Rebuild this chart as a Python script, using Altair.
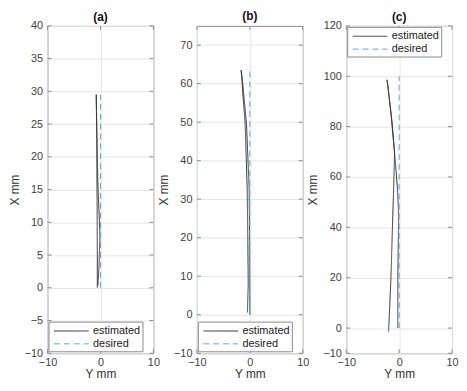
import altair as alt
import pandas as pd

# ---------------- data ----------------
SERIES = ["estimated", "desired"]

# panel (a)
a_est_h = [-0.6, -0.6, -0.62, -0.65, -0.7, -0.8, -0.75, -0.6, -0.45, -0.3, -0.1, -0.3, -0.5]
a_est_v = [0.0, 5.0, 10.0, 15.0, 22.0, 29.5, 27.0, 20.0, 15.0, 12.0, 8.0, 3.0, 0.3]
a_des_h = [0.0, 0.0]
a_des_v = [0.0, 29.5]

# panel (b)
b_est_h = [-0.45, -0.3, -0.38, -0.5, -0.88, -1.64, -1.4, -0.63, -0.13, -0.05, 0.0, 0.0]
b_est_v = [0.6, 8.0, 20.0, 33.0, 49.5, 63.5, 61.0, 49.5, 33.0, 20.0, 5.0, 0.0]
b_des_h = [0.0, 0.0]
b_des_v = [0.0, 64.0]

# panel (c)
c_est_h = [-2.0, -1.55, -1.2, -1.05, -0.87, -1.35, -1.8, -2.3, -2.1, -1.5, -0.87, -0.3, -0.1, -0.25, -0.25]
c_est_v = [-1.4, 20.0, 45.0, 55.0, 69.6, 82.0, 90.0, 98.6, 96.0, 84.0, 69.6, 55.0, 45.0, 20.0, 0.0]
c_des_h = [0.0, 0.0]
c_des_v = [0.0, 100.0]

TITLES = ["(a)", "(b)", "(c)"]
Y_DOMAINS = [[-10, 40], [-10, 75], [-10, 120]]
Y_TICKS = [
    [-10, -5, 0, 5, 10, 15, 20, 25, 30, 35, 40],
    [-10, 0, 10, 20, 30, 40, 50, 60, 70],
    [-10, 0, 20, 40, 60, 80, 100, 120],
]
X_TICKS = [-10, 0, 10]

FONT = "Liberation Sans"
FRAME = "#8c8c8c"
W, H = 107, 331
SYM = 196  # legend symbol size (row height 14 px)


def panel(est_h, est_v, des_h, des_v, title, ydom, yticks, legend_top, title_dy):
    rows = []
    for i, (h, v) in enumerate(zip(est_h, est_v)):
        rows.append({"series": "estimated", "h": h, "v": v, "idx": i})
    for i, (h, v) in enumerate(zip(des_h, des_v)):
        rows.append({"series": "desired", "h": h, "v": v, "idx": i})
    df = pd.DataFrame(rows)

    xs = alt.Scale(domain=[-10, 10], nice=False, zero=False)
    ys = alt.Scale(domain=ydom, nice=False, zero=False)
    xaxis = alt.Axis(values=X_TICKS, title="Y mm")
    yaxis = alt.Axis(values=yticks, title="X mm")

    legend = alt.Legend(
        title=None,
        orient="none",
        legendX=1,
        legendY=1 if legend_top else H - 32,
        strokeColor=FRAME,
        fillColor="white",
        padding=2,
        cornerRadius=0,
        symbolType="M-1,0H4",
        symbolSize=SYM,
        symbolOffset=3,
        symbolStrokeWidth=1,
        labelFont=FONT,
        labelFontSize=11,
        labelColor="#222222",
        labelOffset=25,
        rowPadding=0,
        labelLimit=200,
    )

    lines = alt.Chart(df).mark_line(strokeWidth=1).encode(
        x=alt.X("h:Q", scale=xs, axis=xaxis),
        y=alt.Y("v:Q", scale=ys, axis=yaxis),
        color=alt.Color(
            "series:N",
            scale=alt.Scale(domain=SERIES, range=["#333333", "#55aade"]),
            legend=legend,
        ),
        strokeDash=alt.StrokeDash(
            "series:N",
            scale=alt.Scale(domain=SERIES, range=[[1, 0], [6, 4]]),
            legend=legend,
        ),
        order="idx:Q",
    )

    ydf = pd.DataFrame({"t": yticks})
    xdf = pd.DataFrame({"t": X_TICKS})
    lt = alt.Chart(ydf).mark_rule(color=FRAME, strokeWidth=1).encode(
        y=alt.Y("t:Q", scale=ys, axis=yaxis), x=alt.value(0), x2=alt.value(4))
    rt = alt.Chart(ydf).mark_rule(color=FRAME, strokeWidth=1).encode(
        y=alt.Y("t:Q", scale=ys, axis=yaxis), x=alt.value(W - 4), x2=alt.value(W))
    bt = alt.Chart(xdf).mark_rule(color=FRAME, strokeWidth=1).encode(
        x=alt.X("t:Q", scale=xs, axis=xaxis), y=alt.value(H - 4), y2=alt.value(H))
    tt = alt.Chart(xdf).mark_rule(color=FRAME, strokeWidth=1).encode(
        x=alt.X("t:Q", scale=xs, axis=xaxis), y=alt.value(0), y2=alt.value(4))

    return alt.layer(lt, rt, bt, tt, lines).properties(
        width=W,
        height=H,
        title=alt.TitleParams(title, fontSize=12, fontWeight="bold", font=FONT,
                              color="#111111", offset=2, frame="group", dy=title_dy),
    )


pa = panel(a_est_h, a_est_v, a_des_h, a_des_v, TITLES[0], Y_DOMAINS[0], Y_TICKS[0], False, 6)
pb = panel(b_est_h, b_est_v, b_des_h, b_des_v, TITLES[1], Y_DOMAINS[1], Y_TICKS[1], False, 0)
pc = panel(c_est_h, c_est_v, c_des_h, c_des_v, TITLES[2], Y_DOMAINS[2], Y_TICKS[2], True, 6)

chart = (
    alt.hconcat(pa, pb, pc, spacing=44, bounds="flush")
    .resolve_scale(y="independent", color="independent", strokeDash="independent")
    .resolve_legend(color="independent", strokeDash="independent")
    .properties(padding={"left": -1, "top": 0, "right": 0, "bottom": 0})
    .configure_view(stroke=FRAME, strokeWidth=1)
    .configure_axis(
        domain=False,
        ticks=False,
        grid=True,
        gridColor="#e6e6e6",
        gridWidth=1,
        labelFont=FONT,
        labelFontSize=11,
        labelColor="#404040",
        labelFlush=False,
        labelOverlap=False,
        titleFont=FONT,
        titleFontSize=12,
        titleFontWeight="normal",
        titleColor="#303030",
    )
    .configure_axisY(labelPadding=5, titlePadding=3)
    .configure_axisX(labelPadding=3, titlePadding=2)
)

chart.save("out.html", embed_options={"renderer": "svg", "actions": False})
